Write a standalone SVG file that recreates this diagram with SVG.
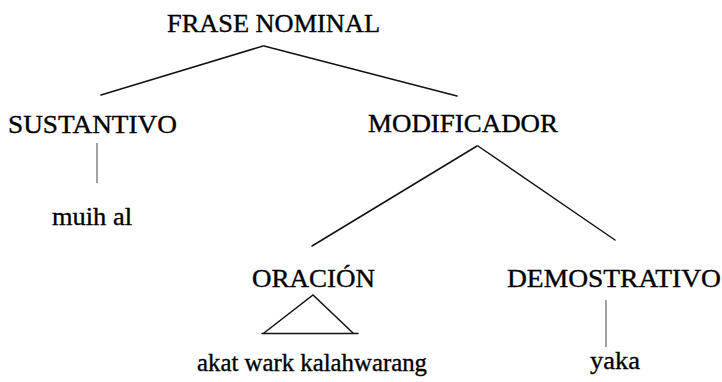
<svg xmlns="http://www.w3.org/2000/svg" width="722" height="382" viewBox="0 0 722 382">
  <style>
    .lbl { font-family: "Liberation Serif", "Times New Roman", serif; font-size: 25px; fill: #000; stroke: #000; stroke-width: 0.35; }
    .word { font-family: "Liberation Serif", "Times New Roman", serif; font-size: 25px; fill: #000; stroke: #000; stroke-width: 0.35; }
    .edge { stroke: #111; stroke-width: 1.5; fill: none; stroke-linecap: round; }
    .thin { stroke: #444; stroke-width: 1; fill: none; }
  </style>
  <rect width="722" height="382" fill="#ffffff"/>

  <g id="connectors">
    <line class="edge" x1="263" y1="46" x2="101" y2="95"/>
    <line class="edge" x1="264" y1="46" x2="457" y2="96"/>
    <line class="thin" x1="97" y1="143" x2="97" y2="183"/>
    <line class="edge" x1="477" y1="146" x2="312" y2="246"/>
    <line class="edge" x1="478" y1="146" x2="615" y2="240"/>
    <polyline class="edge" points="264,333 313,295 353,333"/>
    <line class="edge" x1="262" y1="333.5" x2="358" y2="333.5"/>
    <line class="thin" x1="606" y1="300" x2="606" y2="347"/>
  </g>

  <g id="frase-nominal">
    <text class="lbl" x="167" y="32" textLength="213" lengthAdjust="spacingAndGlyphs">FRASE NOMINAL</text>
  </g>
  <g id="sustantivo">
    <text class="lbl" x="8" y="133" textLength="169" lengthAdjust="spacingAndGlyphs">SUSTANTIVO</text>
  </g>
  <g id="muih-al">
    <text class="word" x="52" y="225" textLength="80" lengthAdjust="spacingAndGlyphs">muih al</text>
  </g>
  <g id="modificador">
    <text class="lbl" x="368" y="132" textLength="190" lengthAdjust="spacingAndGlyphs">MODIFICADOR</text>
  </g>
  <g id="oracion">
    <text class="lbl" x="252" y="287" textLength="123" lengthAdjust="spacingAndGlyphs">ORACIÓN</text>
  </g>
  <g id="akat-wark-kalahwarang">
    <text class="word" x="197" y="371" textLength="230" lengthAdjust="spacingAndGlyphs">akat wark kalahwarang</text>
  </g>
  <g id="demostrativo">
    <text class="lbl" x="507" y="287" textLength="214" lengthAdjust="spacingAndGlyphs">DEMOSTRATIVO</text>
  </g>
  <g id="yaka">
    <text class="word" x="590" y="369" textLength="50" lengthAdjust="spacingAndGlyphs">yaka</text>
  </g>
</svg>
